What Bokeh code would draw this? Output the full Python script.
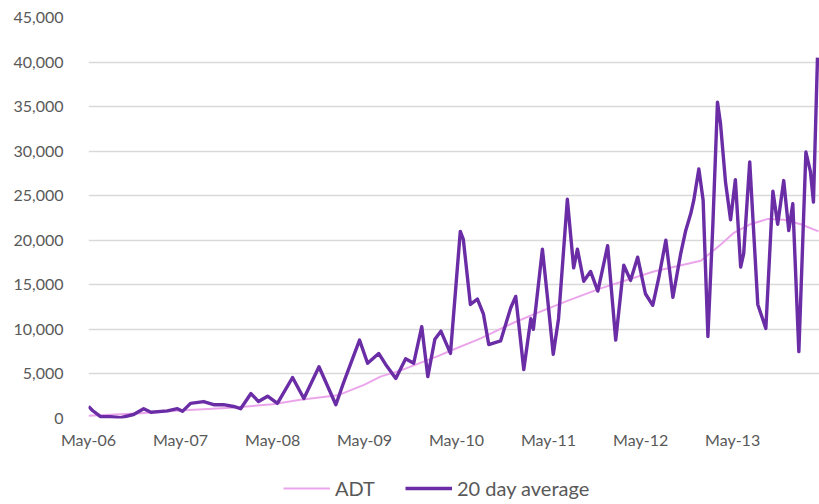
import pandas as pd
from bokeh.plotting import figure
from bokeh.layouts import column
from bokeh.models import (Range1d, FixedTicker, DatetimeTickFormatter, NumeralTickFormatter,
                          Legend, LegendItem)
from bokeh.embed import file_html
from bokeh.resources import INLINE

# 20 day average
avg_dates = [
    "2006-05-01", "2006-05-17", "2006-06-18", "2006-07-27", "2006-09-06", "2006-10-27",
    "2006-12-06", "2007-01-04", "2007-03-10", "2007-04-19", "2007-05-09", "2007-06-10",
    "2007-08-01", "2007-09-10", "2007-10-19", "2007-11-28", "2007-12-26", "2008-02-05",
    "2008-03-06", "2008-04-11", "2008-05-20", "2008-07-19", "2008-09-02", "2008-11-01",
    "2009-01-07", "2009-02-05", "2009-03-14", "2009-04-11", "2009-05-13", "2009-06-26",
    "2009-07-23", "2009-09-02", "2009-10-11", "2009-11-12", "2009-12-14", "2010-01-07",
    "2010-02-04", "2010-02-28", "2010-04-07", "2010-05-16", "2010-05-28", "2010-06-25",
    "2010-07-23", "2010-08-16", "2010-09-06", "2010-10-23", "2010-12-02", "2010-12-22",
    "2011-01-23", "2011-02-20", "2011-03-02", "2011-04-07", "2011-04-27", "2011-05-20",
    "2011-06-10", "2011-07-15", "2011-08-09", "2011-08-24", "2011-09-18", "2011-10-15",
    "2011-11-13", "2011-12-22", "2012-01-23", "2012-02-24", "2012-03-22", "2012-04-19",
    "2012-05-20", "2012-06-18", "2012-07-12", "2012-08-09", "2012-09-06", "2012-10-07",
    "2012-10-27", "2012-11-16", "2012-11-28", "2012-12-18", "2013-01-04", "2013-01-23",
    "2013-02-12", "2013-03-02", "2013-03-14", "2013-04-03", "2013-04-23", "2013-05-12",
    "2013-06-02", "2013-06-14", "2013-07-08", "2013-08-09", "2013-09-10", "2013-10-08",
    "2013-10-27", "2013-11-20", "2013-12-10", "2013-12-26", "2014-01-19", "2014-02-16",
    "2014-03-06", "2014-03-18", "2014-04-03",
]
avg_values = [
    1350, 900, 200, 200, 100, 450,
    1100, 700, 850, 1100, 800, 1700,
    1900, 1550, 1550, 1350, 1100, 2800,
    1900, 2500, 1700, 4600, 2250, 5800,
    1550, 3900, 6700, 8800, 6200, 7300,
    6100, 4500, 6700, 6200, 10300, 4700,
    8900, 9800, 7300, 21000, 20100, 12800,
    13400, 11700, 8300, 8700, 12400, 13700,
    5500, 11200, 10000, 19000, 13600, 7200,
    11200, 24600, 16900, 19000, 15400, 16500,
    14300, 19400, 8800, 17200, 15500, 18100,
    14000, 12700, 15800, 20000, 13600, 18500,
    21100, 23000, 24500, 28000, 24500, 9200,
    22000, 35500, 33100, 26500, 22300, 26800,
    17000, 18500, 28800, 12800, 10100, 25500,
    21800, 26700, 21100, 24100, 7500, 29900,
    27700, 24300, 40500,
]

# ADT
adt_dates = [
    "2006-05-01", "2006-11-24", "2007-05-01", "2007-11-16", "2008-05-01", "2008-08-20",
    "2009-01-15", "2009-05-01", "2009-07-03", "2009-09-22", "2010-02-16", "2010-04-07",
    "2010-08-05", "2010-12-02", "2011-03-30", "2011-07-15", "2011-11-24", "2012-06-22",
    "2012-12-26", "2013-03-14", "2013-05-04", "2013-07-11", "2013-09-18", "2013-11-20",
    "2014-01-27", "2014-04-07",
]
adt_values = [
    300, 600, 900, 1200, 1600, 2100,
    2600, 3800, 4700, 5400, 7000, 7600,
    9000, 10600, 12000, 13200, 14600, 16500,
    17700, 19500, 20800, 21800, 22400, 22300,
    21800, 21000,
]

series_names = ["ADT", "20 day average"]
tick_dates = ["2006-05-01", "2007-05-01", "2008-05-01", "2009-05-01",
              "2010-05-01", "2011-05-01", "2012-05-01", "2013-05-01"]
y_ticks = [0, 5000, 10000, 15000, 20000, 25000, 30000, 35000, 40000, 45000]

avg_x = pd.to_datetime(avg_dates)
adt_x = pd.to_datetime(adt_dates)

FONT = "Lato"
GREY = "#595959"
PINK = "#EBA6EB"
PURPLE = "#6A2DA6"

p = figure(width=819, height=455, x_axis_type="datetime",
           output_backend="svg", toolbar_location=None,
           x_range=Range1d(pd.Timestamp("2006-05-01"), pd.Timestamp("2014-04-11")),
           y_range=Range1d(0, 45000),
           min_border_left=88, min_border_right=0, min_border_top=17,
           min_border_bottom=37)
p.outline_line_color = None
p.background_fill_color = "white"
p.border_fill_color = "white"

p.line(adt_x, adt_values, line_color=PINK, line_width=2)
p.line(avg_x, avg_values, line_color=PURPLE, line_width=3.4, line_join="round")

p.xgrid.grid_line_color = None
p.ygrid.grid_line_color = "#D9D9D9"
p.ygrid.grid_line_width = 1.5
p.ygrid.ticker = FixedTicker(ticks=y_ticks)

p.xaxis.ticker = FixedTicker(ticks=[pd.Timestamp(d).value // 10**6 for d in tick_dates])
fmt = "%b-%y"
p.xaxis.formatter = DatetimeTickFormatter(milliseconds=fmt, seconds=fmt, minsec=fmt, minutes=fmt,
                                          hourmin=fmt, hours=fmt, days=fmt, months=fmt, years=fmt)
p.yaxis.ticker = FixedTicker(ticks=y_ticks)
p.yaxis.formatter = NumeralTickFormatter(format="0,0")

for ax in (p.xaxis[0], p.yaxis[0]):
    ax.axis_line_color = None
    ax.major_tick_line_color = None
    ax.minor_tick_line_color = None
    ax.major_label_text_font = FONT
    ax.major_label_text_font_size = "16px"
    ax.major_label_text_color = GREY
p.yaxis.major_label_standoff = 19
p.xaxis.major_label_standoff = 5

# legend strip below the chart (its lines lie outside its own ranges, only the key shows)
lg = figure(width=819, height=49, output_backend="svg", toolbar_location=None,
            x_axis_location=None, y_axis_location=None,
            x_range=Range1d(0, 1), y_range=Range1d(0, 1),
            min_border=0)
lg.outline_line_color = None
lg.xgrid.grid_line_color = None
lg.ygrid.grid_line_color = None
r_adt = lg.line(adt_x, adt_values, line_color=PINK, line_width=2)
r_avg = lg.line(avg_x, avg_values, line_color=PURPLE, line_width=3.4)
legend = Legend(items=[LegendItem(label=series_names[0], renderers=[r_adt]),
                       LegendItem(label=series_names[1], renderers=[r_avg])],
                orientation="horizontal", location=(195, 4),
                label_text_font=FONT, label_text_font_size="20px", label_text_color=GREY,
                glyph_width=47, glyph_height=20, label_height=20,
                spacing=30, label_standoff=5,
                border_line_color=None, background_fill_alpha=0,
                padding=0, margin=0)
lg.add_layout(legend, "center")

open("out.html", "w").write(file_html(column(p, lg, spacing=0), INLINE))
